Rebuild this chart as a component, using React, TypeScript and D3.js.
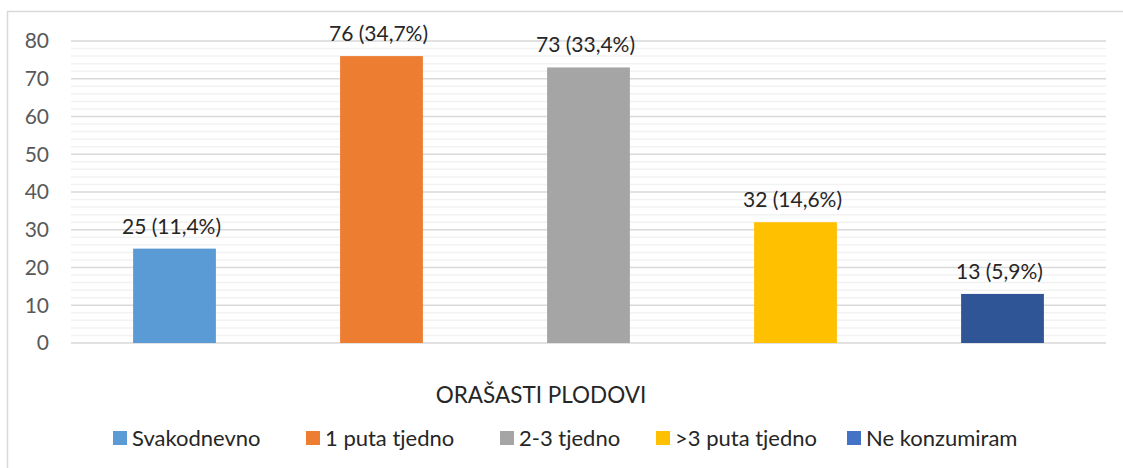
import React from "react";
import * as d3 from "d3";

const categories = ["Svakodnevno", "1 puta tjedno", "2-3 tjedno", ">3 puta tjedno", "Ne konzumiram"];
const values = [25, 76, 73, 32, 13];
const labels = ["25 (11,4%)", "76 (34,7%)", "73 (33,4%)", "32 (14,6%)", "13 (5,9%)"];
const barColors = ["#5B9BD5", "#ED7D31", "#A5A5A5", "#FFC000", "#2F5597"];
const legendColors = ["#5B9BD5", "#ED7D31", "#A5A5A5", "#FFC000", "#4472C4"];
const yTicks = [0, 10, 20, 30, 40, 50, 60, 70, 80];
const minorTicks = d3.range(0, 81, 2);
const legendX = [113, 306, 500, 656, 847];
const title = "ORAŠASTI PLODOVI";

export default function App() {
  const W = 1123, H = 468;
  const left = 71, right = 1106, top = 41, bottom = 343;
  const x = d3.scaleBand<string>().domain(categories).range([left, right]).padding(0);
  const y = d3.scaleLinear().domain([0, 80]).range([bottom, top]);
  const bw = x.bandwidth() * 0.4;
  const font = "Lato, 'Open Sans', sans-serif";

  return (
    <svg width={W} height={H} style={{ position: "absolute", left: 0, top: 0, background: "#fff" }} fontFamily={font}>
      <rect x={0} y={0} width={W} height={H} fill="#fff" />
      <path d={`M7.5,${H} V11.5 H${W}`} fill="none" stroke="#D9D9D9" strokeWidth={1.5} />
      {minorTicks.filter(t => t % 10 !== 0).map(t => (
        <line key={"m" + t} x1={left} x2={right} y1={y(t)} y2={y(t)} stroke="#F2F2F2" strokeWidth={1.5} />
      ))}
      {yTicks.map(t => (
        <line key={"g" + t} x1={left} x2={right} y1={y(t)} y2={y(t)} stroke="#D9D9D9" strokeWidth={1.5} />
      ))}
      {yTicks.map(t => (
        <text key={"t" + t} x={49} y={y(t)} dy="0.35em" textAnchor="end" fontSize={21} fill="#595959">{t}</text>
      ))}
      {categories.map((c, i) => {
        const cx = (x(c) as number) + x.bandwidth() / 2;
        return (
          <g key={c}>
            <rect x={cx - bw / 2} y={y(values[i])} width={bw} height={y(0) - y(values[i])} fill={barColors[i]} />
            <text x={cx - 3} y={y(values[i]) - 15} textAnchor="middle" fontSize={21} fill="#262626">{labels[i]}</text>
          </g>
        );
      })}
      <text x={541} y={403} textAnchor="middle" fontSize={22.5} fill="#262626">{title}</text>
      {categories.map((c, i) => (
        <g key={"l" + c}>
          <rect x={legendX[i]} y={431} width={14} height={14} fill={legendColors[i]} />
          <text x={legendX[i] + 19} y={438} dy="0.35em" fontSize={22} fill="#262626">{c}</text>
        </g>
      ))}
    </svg>
  );
}
